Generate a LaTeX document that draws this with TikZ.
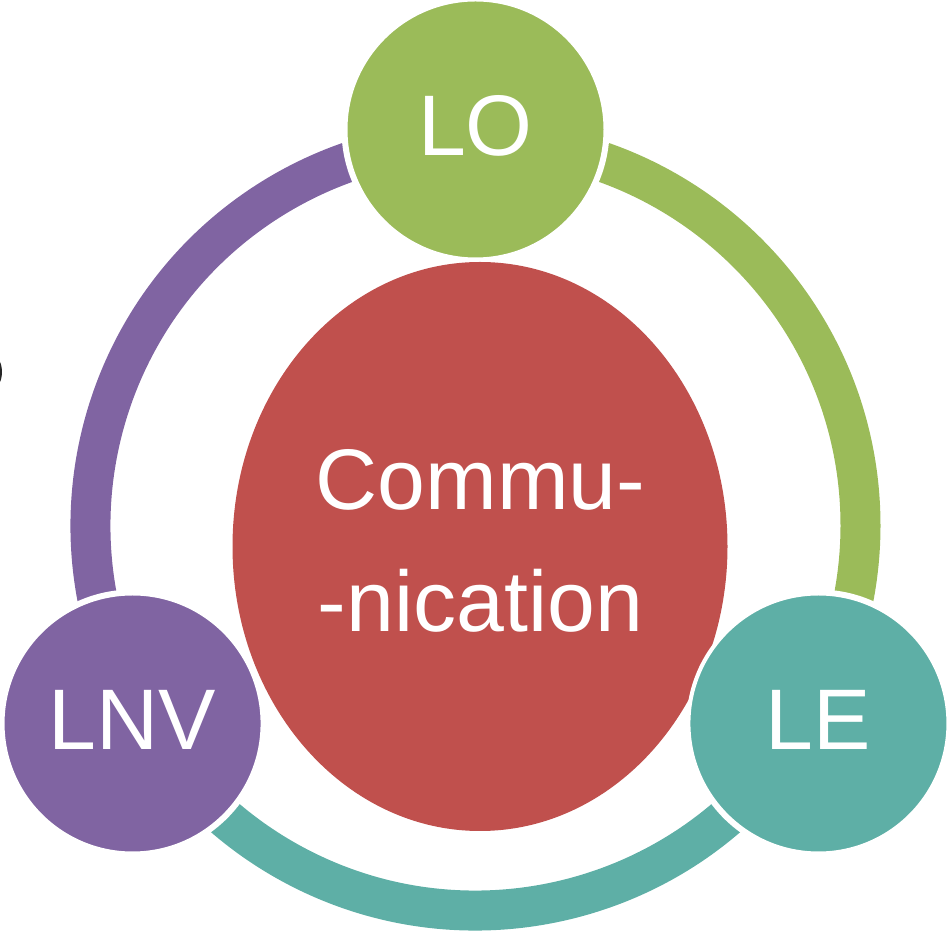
\documentclass[tikz,border=0pt]{standalone}
\usepackage{fontspec}
\setmainfont{Liberation Sans}
\usetikzlibrary{shapes.geometric}
\definecolor{cgreen}{RGB}{155,187,89}
\definecolor{cred}{RGB}{192,80,77}
\definecolor{cpurple}{RGB}{128,100,162}
\definecolor{cteal}{RGB}{94,175,166}
\begin{document}
\begin{tikzpicture}[x=1pt,y=1pt,
  ring/.style={line width=40pt},
  gapdisc/.style={circle, fill=white, minimum size=268pt, inner sep=0pt},
  bubble/.style={circle, draw=white, line width=4pt, minimum size=260pt, inner sep=0pt,
    text=white, font=\fontsize{86}{100}\selectfont, text height=62pt, text depth=9pt},
  centertext/.style={text=white, align=center, inner sep=0pt, font=\fontsize{86}{122}\selectfont}
]
\useasboundingbox (0,0) rectangle (951,937);
\coordinate (C) at (475.5,411.5);
% ring arcs
\draw[ring, cgreen] (C) ++(90:385pt) arc[start angle=90, end angle=-30, radius=385pt];
\draw[ring, cteal] (C) ++(-30:385pt) arc[start angle=-30, end angle=-150, radius=385pt];
\draw[ring, cpurple] (C) ++(210:385pt) arc[start angle=210, end angle=90, radius=385pt];
% white gaps around the circles
\path (C) ++(90:396pt) node[gapdisc] (gLO) {};
\path (C) ++(-30:396pt) node[gapdisc] (gLE) {};
\path (C) ++(210:396pt) node[gapdisc] (gLNV) {};
% central ellipse
\node[ellipse, fill=cred, minimum width=495pt, minimum height=569pt, inner sep=0pt] (comm) at (480,390.5) {};
\node[centertext] (commtext) at (480.5,396.5) {Commu-\\-nication};
% outer circles
\path (C) ++(90:396pt) node[bubble, fill=cgreen] (LO) {LO};
\path (C) ++(-30:396pt) node[bubble, fill=cteal] (LE) {LE};
\path (C) ++(210:396pt) node[bubble, fill=cpurple] (LNV) {LNV};
% clipped mark at left edge
\fill[black!85] (0,575) .. controls (2.6,570) and (2.6,560) .. (0,555) -- cycle;
\end{tikzpicture}
\end{document}
